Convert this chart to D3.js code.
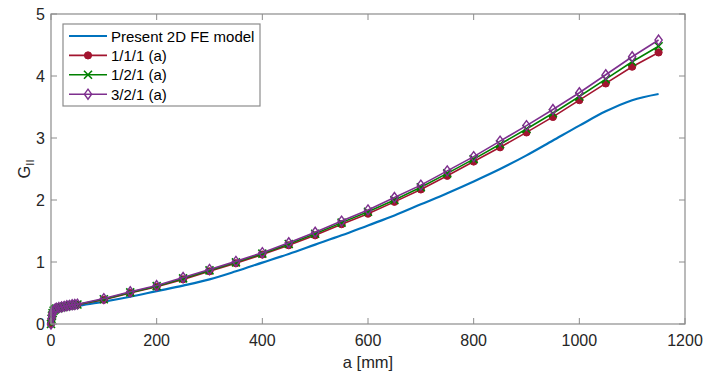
<!DOCTYPE html>
<html><head><meta charset="utf-8">
<script src="https://cdn.jsdelivr.net/npm/d3@7"></script>
<style>body{margin:0;background:#fff;} svg{display:block;font-family:"Liberation Sans",Arial,sans-serif;}</style>
</head><body>
<svg id="c" width="707" height="380"></svg>
<script>
const xTicks = [0,200,400,600,800,1000,1200];
const yTicks = [0,1,2,3,4,5];

const feA = [0,2,5,10,20,30,50,100,150,200,250,300,350,400,450,500,550,600,650,700,750,800,850,900,950,1000,1050,1100,1150];
const feG = [0,0.12,0.18,0.21,0.24,0.26,0.29,0.36,0.44,0.53,0.62,0.72,0.85,0.99,1.13,1.28,1.43,1.59,1.75,1.93,2.11,2.30,2.50,2.72,2.96,3.20,3.43,3.61,3.71];

const mA = [0,1,2,3,5,7.5,10,15,20,25,30,35,40,45,50,100,150,200,250,300,350,400,450,500,550,600,650,700,750,800,850,900,950,1000,1050,1100,1150];
const g111 = [0,0.08,0.13,0.17,0.21,0.23,0.245,0.255,0.265,0.275,0.285,0.29,0.3,0.305,0.31,0.39,0.5,0.60,0.72,0.85,0.98,1.12,1.27,1.43,1.61,1.78,1.97,2.17,2.39,2.62,2.85,3.09,3.34,3.61,3.88,4.15,4.38];
const g121 = [0,0.085,0.135,0.175,0.215,0.235,0.25,0.26,0.27,0.28,0.29,0.295,0.305,0.31,0.315,0.40,0.51,0.61,0.735,0.865,0.995,1.135,1.29,1.455,1.635,1.81,2.0,2.205,2.43,2.66,2.90,3.145,3.40,3.67,3.95,4.23,4.48];
const g321 = [0,0.09,0.14,0.18,0.22,0.24,0.255,0.265,0.275,0.285,0.295,0.30,0.31,0.315,0.32,0.41,0.52,0.62,0.75,0.88,1.01,1.15,1.31,1.48,1.66,1.84,2.04,2.24,2.47,2.70,2.95,3.20,3.46,3.73,4.02,4.31,4.58];

const labels = ["Present 2D FE model","1/1/1 (a)","1/2/1 (a)","3/2/1 (a)"];
const colors = ["#0072BD","#A2142F","#008000","#7E2F8E"];

const svg = d3.select("#c");
const L=51, R=685, T=14, B=324;
const x = d3.scaleLinear().domain([0,1200]).range([L,R]);
const y = d3.scaleLinear().domain([0,5]).range([B,T]);
const axisCol = "#262626", boxCol="#8c8c8c";

const lineSmooth = d3.line().x(d=>x(d[0])).y(d=>y(d[1])).curve(d3.curveMonotoneX);
const line = d3.line().x(d=>x(d[0])).y(d=>y(d[1]));
const series = [
  {a:feA,g:feG,c:colors[0],m:null},
  {a:mA,g:g111,c:colors[1],m:"circle"},
  {a:mA,g:g121,c:colors[2],m:"x"},
  {a:mA,g:g321,c:colors[3],m:"diamond"}
];
function marker(sel, type, c){
  if(type==="circle") sel.append("circle").attr("r",3.6).attr("fill",c).attr("stroke",c);
  else if(type==="x") sel.append("path").attr("d","M-4,-4L4,4M-4,4L4,-4").attr("stroke",c).attr("stroke-width",1.6).attr("fill","none");
  else if(type==="diamond") sel.append("path").attr("d","M0,-5L3.6,0L0,5L-3.6,0Z").attr("stroke",c).attr("stroke-width",1.4).attr("fill","none");
}
const plot = svg.append("g");
series.forEach(s=>{
  const pts = s.a.map((a,i)=>[a,s.g[i]]);
  plot.append("path").datum(pts).attr("d",s.m?line:lineSmooth).attr("fill","none").attr("stroke",s.c).attr("stroke-width",s.m?1.6:2.2);
  if(s.m){
    plot.selectAll(null).data(pts).enter().append("g")
      .attr("transform",d=>`translate(${x(d[0])},${y(d[1])})`)
      .each(function(){marker(d3.select(this),s.m,s.c);});
  }
});

svg.append("rect").attr("x",L).attr("y",T).attr("width",R-L).attr("height",B-T).attr("fill","none").attr("stroke",boxCol).attr("stroke-width",1.2);
const tl=6;
xTicks.forEach(t=>{
  svg.append("line").attr("x1",x(t)).attr("x2",x(t)).attr("y1",B).attr("y2",B-tl).attr("stroke",boxCol);
  svg.append("line").attr("x1",x(t)).attr("x2",x(t)).attr("y1",T).attr("y2",T+tl).attr("stroke",boxCol);
  svg.append("text").attr("x",x(t)).attr("y",B+22).attr("text-anchor","middle").attr("font-size",16).attr("fill",axisCol).text(t);
});
yTicks.forEach(t=>{
  svg.append("line").attr("x1",L).attr("x2",L+tl).attr("y1",y(t)).attr("y2",y(t)).attr("stroke",boxCol);
  svg.append("line").attr("x1",R).attr("x2",R-tl).attr("y1",y(t)).attr("y2",y(t)).attr("stroke",boxCol);
  svg.append("text").attr("x",L-6).attr("y",y(t)+6).attr("text-anchor","end").attr("font-size",16).attr("fill",axisCol).text(t);
});
svg.append("text").attr("x",(L+R)/2).attr("y",368).attr("text-anchor","middle").attr("font-size",16.5).attr("fill",axisCol).text("a [mm]");
const yl = svg.append("text").attr("transform",`translate(30,${(T+B)/2}) rotate(-90)`).attr("text-anchor","middle").attr("font-size",16.5).attr("fill",axisCol);
yl.append("tspan").text("G");
yl.append("tspan").attr("font-size",11).attr("dy",4).text("II");

const lg = svg.append("g");
lg.append("rect").attr("x",63).attr("y",24).attr("width",197).attr("height",82).attr("fill","#fff").attr("stroke",boxCol).attr("stroke-width",1.2);
labels.forEach((lab,i)=>{
  const cy = 36 + i*19.4;
  lg.append("line").attr("x1",69).attr("x2",107).attr("y1",cy).attr("y2",cy).attr("stroke",colors[i]).attr("stroke-width",i?1.6:2.2);
  const mg = lg.append("g").attr("transform",`translate(88,${cy})`);
  if(series[i].m) marker(mg,series[i].m,colors[i]);
  lg.append("text").attr("x",111).attr("y",cy+5.5).attr("font-size",15).attr("fill","#000").text(lab);
});
</script>
</body></html>
